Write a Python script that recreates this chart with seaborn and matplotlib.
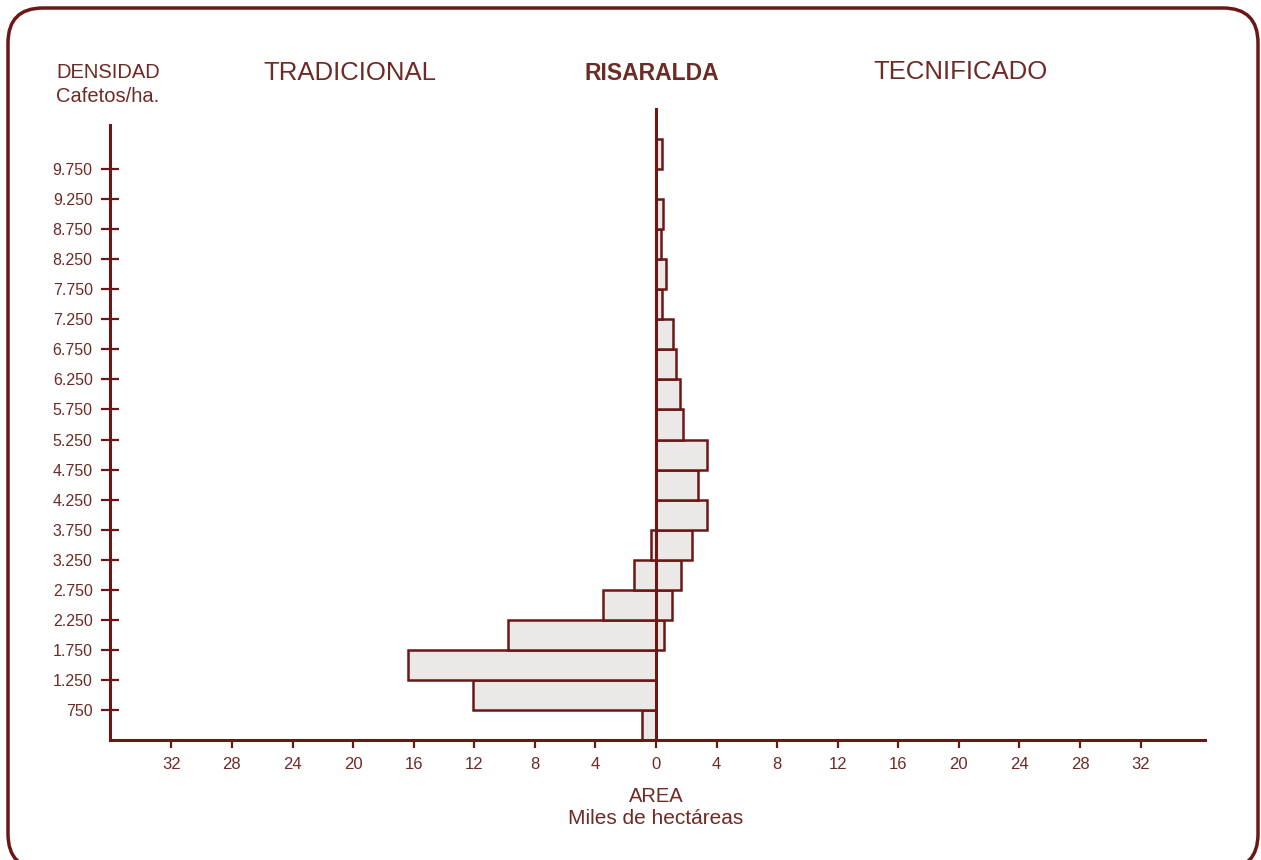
import numpy as np
import pandas as pd
import matplotlib
matplotlib.use("Agg")
import matplotlib.pyplot as plt
from matplotlib.patches import FancyBboxPatch
import seaborn as sns

# --- Data: area (miles de hectareas) by density bin (cafetos/ha) ---
bin_centers = [500, 1000, 1500, 2000, 2500, 3000, 3500, 4000, 4500, 5000,
               5500, 6000, 6500, 7000, 7500, 8000, 8500, 9000, 9500, 10000]
tradicional = [0.9, 12.1, 16.4, 9.8, 3.5, 1.45, 0.3, 0, 0, 0,
               0, 0, 0, 0, 0, 0, 0, 0, 0, 0]
tecnificado = [0, 0, 0, 0.55, 1.05, 1.65, 2.35, 3.35, 2.75, 3.35,
               1.8, 1.6, 1.35, 1.1, 0.4, 0.65, 0.3, 0.45, 0, 0.4]
y_ticks = [750, 1250, 1750, 2250, 2750, 3250, 3750, 4250, 4750, 5250,
           5750, 6250, 6750, 7250, 7750, 8250, 8750, 9250, 9750]
x_ticks = [-32, -28, -24, -20, -16, -12, -8, -4, 0, 4, 8, 12, 16, 20, 24, 28, 32]

LINE = "#6a1715"
TEXT = "#6e2a24"
FILL = "#ebe9e7"

sns.set_theme(style="white")
plt.rcParams["font.family"] = ["Liberation Sans", "DejaVu Sans"]

W, H = 1261, 860
fig = plt.figure(figsize=(W / 100, H / 100), dpi=100)
fig.patch.set_facecolor("white")

# axes placed in pixel coordinates of the reference
left, right, bottom, top = 110, 1205, 740, 108
ax = fig.add_axes([left / W, 1 - bottom / H, (right - left) / W, (bottom - top) / H])
ax.set_facecolor("none")

df = pd.DataFrame({"densidad": bin_centers,
                   "trad": -np.array(tradicional),
                   "tec": np.array(tecnificado)})

bar_kw = dict(orient="y", native_scale=True, width=1.0, errorbar=None,
              color=FILL, edgecolor=LINE, linewidth=1.8, saturation=1, ax=ax)
sns.barplot(data=df, x="trad", y="densidad", **bar_kw)
sns.barplot(data=df, x="tec", y="densidad", **bar_kw)

ax.set_xlim(-36.05, 36.25)
ax.set_ylim(250, 10767)
ax.set_xlabel("")
ax.set_ylabel("")

# center line
ax.axvline(0, color=LINE, lw=2.2, zorder=5)

for s in ["top", "right"]:
    ax.spines[s].set_visible(False)
for s in ["left", "bottom"]:
    ax.spines[s].set_color(LINE)
    ax.spines[s].set_linewidth(2.2)
ax.spines["left"].set_bounds(250, 10480)

ax.set_yticks(y_ticks)
ax.set_yticklabels([f"{v:,}".replace(",", ".") for v in y_ticks])
ax.set_xticks(x_ticks)
ax.set_xticklabels([str(abs(v)) for v in x_ticks])
ax.tick_params(axis="y", direction="inout", length=13, width=1.6, color=LINE,
               labelcolor=TEXT, labelsize=11.5, pad=6, left=True)
ax.tick_params(axis="x", direction="out", length=6, width=1.6, color=LINE,
               labelcolor=TEXT, labelsize=12, pad=6, bottom=True)

# titles and axis captions
def ftext(x, y, s, **kw):
    fig.text(x / W, 1 - y / H, s, color=TEXT, **kw)

ftext(350, 73, "TRADICIONAL", fontsize=18.5, ha="center", va="center")
ftext(652, 73, "RISARALDA", fontsize=16.5, fontweight="bold", ha="center", va="center")
ftext(960, 72, "TECNIFICADO", fontsize=18.5, ha="center", va="center")
ftext(56, 73, "DENSIDAD", fontsize=14.5, ha="left", va="center")
ftext(56, 97, "Cafetos/ha.", fontsize=14.5, ha="left", va="center")
ftext(656, 797, "AREA", fontsize=14.5, ha="center", va="center")
ftext(656, 819, "Miles de hectáreas", fontsize=15, ha="center", va="center")

# rounded frame around the whole card (in inches, bottom edge runs off the page)
frame = FancyBboxPatch((0.08, -0.09), 12.50, 8.61,
                       boxstyle="round,pad=0,rounding_size=0.35",
                       transform=fig.dpi_scale_trans, fill=False,
                       edgecolor=LINE, linewidth=2.5)
fig.patches.append(frame)

fig.savefig("out.png", dpi=100)
